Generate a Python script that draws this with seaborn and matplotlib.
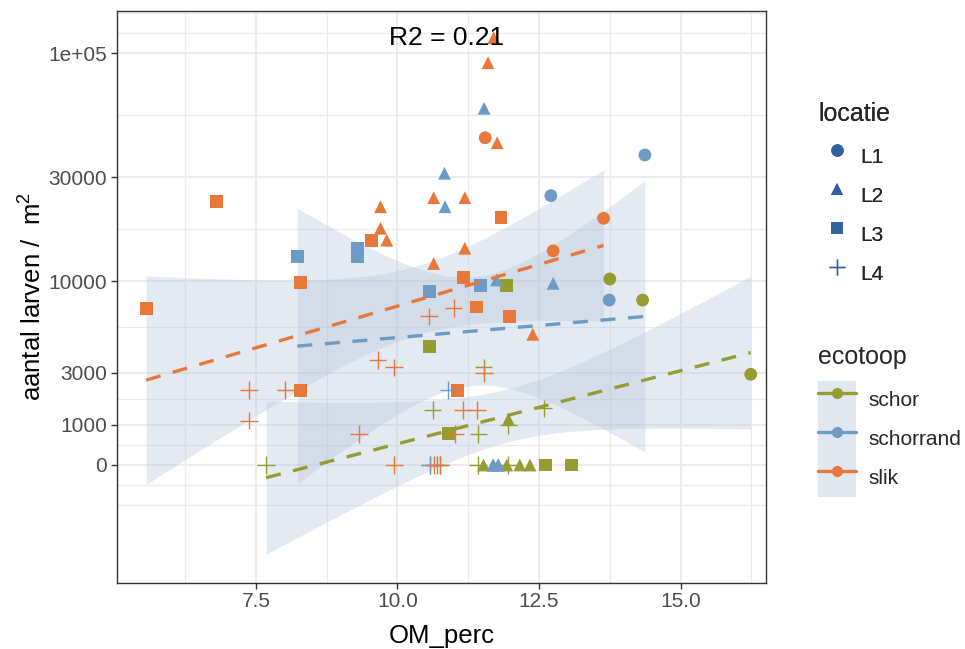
import math
import numpy as np
import pandas as pd
import matplotlib
matplotlib.use("Agg")
import matplotlib.pyplot as plt
import seaborn as sns
from matplotlib.lines import Line2D
from matplotlib.patches import Patch
from matplotlib.legend_handler import HandlerTuple

# ---------------- data ----------------
slik_om = [6.80, 8.29, 5.56, 7.38, 8.02, 8.29, 7.38, 11.70, 11.60, 11.55, 11.76, 10.64, 11.19,
           11.83, 9.70, 9.70, 9.81, 9.54, 11.19, 10.64, 11.16, 12.75, 10.99, 10.56, 11.39, 11.98,
           12.39, 9.65, 9.94, 11.53, 11.06, 11.15, 11.40, 9.32, 11.02, 9.94, 10.64, 13.64, 10.75]
slik_n = [23400, 9900, 7300, 2230, 2230, 2200, 1130, 116000, 91400, 44300, 42200, 24400, 24400,
          19900, 22250, 17800, 15700, 15600, 14400, 12200, 10400, 14000, 7300, 6600, 7400, 6600,
          5240, 3650, 3270, 2970, 2200, 1470, 1470, 740, 740, 0, 0, 19750, 0]
slik_loc = ["L3", "L3", "L3", "L4", "L4", "L3", "L4", "L2", "L2", "L1", "L2", "L2", "L2",
            "L3", "L2", "L2", "L2", "L3", "L2", "L2", "L3", "L1", "L4", "L4", "L3", "L3",
            "L2", "L4", "L4", "L4", "L3", "L4", "L4", "L4", "L4", "L4", "L4", "L1", "L4"]

# zero counts at the same station overlap exactly (several replicates per marker)
schorrand_om = [8.23, 11.53, 10.83, 10.84, 12.71, 9.30, 9.30, 11.46, 11.75, 12.75, 10.56,
                10.90, 10.57, 11.69, 11.78, 14.37, 13.74,
                10.57, 10.75, 11.69, 11.69, 11.78, 11.78]
schorrand_n = [13200, 59000, 31200, 22250, 24900, 14300, 13200, 9500, 10150, 9770, 8870,
               2230, 0, 0, 0, 37400, 8040,
               0, 0, 0, 0, 0, 0]
schorrand_loc = ["L3", "L2", "L2", "L2", "L1", "L3", "L3", "L3", "L2", "L2", "L3",
                 "L4", "L4", "L2", "L2", "L1", "L1",
                 "L4", "L4", "L2", "L2", "L2", "L2"]

schor_om = [7.68, 10.56, 11.52, 10.62, 12.58, 11.96, 11.96, 10.90, 11.43, 10.70, 11.52, 11.93,
            12.16, 12.34, 11.96, 12.62, 13.08, 11.93, 13.75, 14.33, 16.24, 11.42]
schor_n = [0, 4430, 3270, 1470, 1530, 1170, 1000, 760, 740, 0, 0, 0,
           0, 0, 0, 0, 0, 9500, 10260, 8040, 2925, 0]
schor_loc = ["L4", "L3", "L4", "L4", "L4", "L2", "L4", "L3", "L4", "L4", "L2", "L2",
             "L2", "L2", "L4", "L3", "L3", "L3", "L1", "L1", "L1", "L4"]

ecotopen = ["schor", "schorrand", "slik"]
locaties = ["L1", "L2", "L3", "L4"]
y_breaks = [0, 1000, 3000, 10000, 30000, 100000]
y_labels = ["0", "1000", "3000", "10000", "30000", "1e+05"]
x_breaks = [7.5, 10.0, 12.5, 15.0]
r2_label = "R2 = 0.21"

# ---------------- styling ----------------
colors = {"schor": "#959C30", "schorrand": "#6C9BC5", "slik": "#E8773A"}
loc_color = "#30629F"
band_color = "#B4C4DA"
OFFSET = 2200.0

def fwd(y):
    return np.log10(np.maximum(np.asarray(y, dtype=float) + OFFSET, 1e-6))

def inv(t):
    return 10.0 ** np.asarray(t, dtype=float) - OFFSET

def t_quantile_975(dof):
    g = np.linspace(0, 40, 200001)
    c = math.exp(math.lgamma((dof + 1) / 2) - math.lgamma(dof / 2)) / math.sqrt(dof * math.pi)
    pdf = c * (1 + g ** 2 / dof) ** (-(dof + 1) / 2)
    cum = np.concatenate([[0], np.cumsum((pdf[1:] + pdf[:-1]) / 2 * np.diff(g))])
    return float(np.interp(0.475, cum, g))

frames = []
for eco, om, n, loc in [("schor", schor_om, schor_n, schor_loc),
                        ("schorrand", schorrand_om, schorrand_n, schorrand_loc),
                        ("slik", slik_om, slik_n, slik_loc)]:
    frames.append(pd.DataFrame({"OM_perc": om, "aantal": n, "locatie": loc, "ecotoop": eco}))
df = pd.concat(frames, ignore_index=True)

sns.set_theme(style="white")
plt.rcParams["font.family"] = ["Liberation Sans", "DejaVu Sans"]
plt.rcParams["mathtext.fontset"] = "custom"
plt.rcParams["mathtext.rm"] = "Liberation Sans"
plt.rcParams["mathtext.it"] = "Liberation Sans:italic"

W, H = 965, 649
fig = plt.figure(figsize=(W / 100, H / 100), dpi=100)
L, R, T, B = 116.7, 766.0, 11.0, 582.7
ax = fig.add_axes([L / W, 1 - B / H, (R - L) / W, (B - T) / H])
ax.set_yscale("function", functions=(fwd, inv))

K = 246.96
t0 = float(fwd(0))
ax.set_ylim(inv(t0 - (B - 465.0) / K), inv(t0 + (465.0 - T) / K))
ax.set_xlim(5.04, 16.51)

# regression bands and lines (lm in transformed space, 95% CI)
for eco in ecotopen:
    d = df[df.ecotoop == eco]
    x = d.OM_perc.to_numpy()
    t = fwd(d.aantal.to_numpy())
    n = len(x)
    b1, b0 = np.polyfit(x, t, 1)
    res = t - (b0 + b1 * x)
    s = math.sqrt(np.sum(res ** 2) / (n - 2))
    xg = np.linspace(x.min(), x.max(), 100)
    fit = b0 + b1 * xg
    se = s * np.sqrt(1 / n + (xg - x.mean()) ** 2 / np.sum((x - x.mean()) ** 2))
    q = t_quantile_975(n - 2)
    ax.fill_between(xg, inv(fit - q * se), inv(fit + q * se), color=band_color, alpha=0.35,
                    lw=0, zorder=1)
    ax.plot(xg, inv(fit), color=colors[eco], lw=2.4, ls=(0, (4.5, 3.8)), zorder=4,
            dash_capstyle="butt")

filled = df[df.locatie != "L4"]
sns.scatterplot(data=filled, x="OM_perc", y="aantal", hue="ecotoop", style="locatie",
                markers={"L1": "o", "L2": "^", "L3": "s"}, palette=colors,
                hue_order=ecotopen, s=85, linewidth=0, legend=False, ax=ax, zorder=3)
plus = df[df.locatie == "L4"]
sns.scatterplot(data=plus, x="OM_perc", y="aantal", hue="ecotoop", marker="+",
                palette=colors, hue_order=ecotopen, s=160, linewidth=1.0, legend=False,
                ax=ax, zorder=3)

# grid: major at breaks, minor at midpoints (transformed space)
tb = list(fwd(y_breaks))
bd = tb[1] - tb[0]
ext = [tb[0] - bd] + tb + [tb[-1] + bd]
minor_t = ext + [(a + b) / 2 for a, b in zip(ext[:-1], ext[1:])]
ax.set_yticks(y_breaks)
ax.set_yticklabels(y_labels)
ax.set_yticks(list(inv(np.array(minor_t))), minor=True)
ax.set_xticks(x_breaks)
ax.set_xticklabels([f"{v:.1f}" for v in x_breaks])
ax.set_xticks([6.25, 8.75, 11.25, 13.75, 16.25], minor=True)
ax.grid(True, which="major", color="#EBEBEB", lw=1.3, zorder=0)
ax.grid(True, which="minor", color="#EBEBEB", lw=0.9, zorder=0)
ax.set_axisbelow(True)
ax.tick_params(axis="both", which="major", labelsize=15, labelcolor="#4D4D4D",
               color="#333333", length=4, width=1, direction="out", left=True, bottom=True,
               pad=3)
ax.tick_params(axis="both", which="minor", length=0)
for sp in ax.spines.values():
    sp.set_color("#333333")
    sp.set_linewidth(1.0)

ax.set_xlabel("OM_perc", fontsize=18.5, color="black")
ax.set_ylabel(r"aantal larven /  m$^{2}$", fontsize=18.5, color="black")
ax.xaxis.set_label_coords(0.5, -0.072)
ax.yaxis.set_label_coords(-0.108, 0.5)

ax.text(0.508, 0.953, r2_label, transform=ax.transAxes, ha="center", va="center",
        fontsize=19, color="black", zorder=6)

# legends
loc_markers = {"L1": "o", "L2": "^", "L3": "s", "L4": "+"}
h1 = [Line2D([], [], ls="", marker=loc_markers[l], color=loc_color,
             markersize=(9 if l != "L4" else 12), markeredgewidth=(0 if l != "L4" else 1.0))
      for l in locaties]
leg1 = fig.legend(h1, locaties, title="locatie", loc="upper left",
                  bbox_to_anchor=(808 / W, 1 - 92 / H), frameon=False, fontsize=15,
                  title_fontsize=18, handlelength=1.8, handleheight=2.5, labelspacing=0.0,
                  handletextpad=0.2, borderpad=0, alignment="left")
leg1._legend_box.sep = 8
fig.add_artist(leg1)

band_blend = "#E1E7EF"
h2 = [(Patch(facecolor=band_blend, edgecolor="none"),
       Line2D([], [], color=colors[e], lw=2.4, marker="o", markersize=8, markeredgewidth=0))
      for e in ecotopen]
leg2 = fig.legend(h2, ecotopen, title="ecotoop", loc="upper left",
                  bbox_to_anchor=(808 / W, 1 - 335 / H), frameon=False, fontsize=15,
                  title_fontsize=18, handlelength=1.8, handleheight=2.5, labelspacing=0.0,
                  handletextpad=0.6, borderpad=0, alignment="left",
                  handler_map={tuple: HandlerTuple(ndivide=1, pad=0)})
leg2._legend_box.sep = 8

fig.savefig("out.png", dpi=100, facecolor="white")
